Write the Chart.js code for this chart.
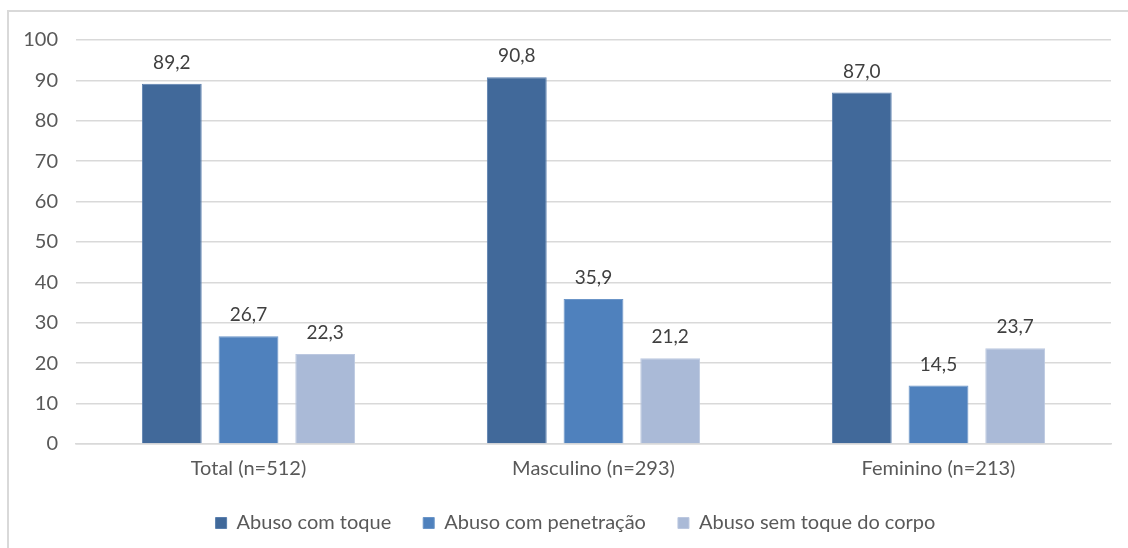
<!DOCTYPE html>
<html>
<head>
<meta charset="utf-8">
<script src="https://cdn.jsdelivr.net/npm/chart.js@4"></script>
<style>
html,body{margin:0;padding:0;background:#fff;}
#wrap{position:relative;width:1128px;height:548px;overflow:hidden;}
#frame{position:absolute;left:7px;top:10px;width:1140px;height:560px;border:2px solid #d9d9d9;box-sizing:border-box;}
canvas{position:absolute;left:0;top:0;}
</style>
</head>
<body>
<div id="wrap">
<div id="frame"></div>
<canvas id="c" width="1128" height="548"></canvas>
</div>
<script>
const categories = ["Total (n=512)", "Masculino (n=293)", "Feminino (n=213)"];
const seriesNames = ["Abuso com toque", "Abuso com penetração", "Abuso sem toque do corpo"];
const abusoComToque = [89.2, 90.8, 87.0];
const abusoComPenetracao = [26.7, 35.9, 14.5];
const abusoSemToque = [22.3, 21.2, 23.7];
const yTicks = [0, 10, 20, 30, 40, 50, 60, 70, 80, 90, 100];

const colors = ["#41699a", "#4f81bd", "#aabad7"];
const FONT = "Lato, 'Liberation Sans', sans-serif";

const labelPlugin = {
  id: 'valueLabels',
  afterDatasetsDraw(chart) {
    const ctx = chart.ctx;
    ctx.save();
    ctx.font = "19px " + FONT;
    ctx.fillStyle = "#404040";
    ctx.textAlign = "center";
    ctx.textBaseline = "middle";
    chart.data.datasets.forEach((ds, i) => {
      const meta = chart.getDatasetMeta(i);
      meta.data.forEach((bar, j) => {
        const v = ds.data[j];
        ctx.fillText(v.toFixed(1).replace('.', ','), bar.x, bar.y - 21);
      });
    });
    ctx.restore();
  }
};

const legendShift = {
  id: 'legendShift',
  afterLayout(chart) {
    if (chart.legend) { chart.legend.left += 40; chart.legend.right += 0; }
  }
};

new Chart(document.getElementById('c'), {
  type: 'bar',
  data: {
    labels: categories,
    datasets: [
      {label: seriesNames[0], data: abusoComToque, backgroundColor: colors[0], borderColor: "#5a7fae", borderWidth: 1},
      {label: seriesNames[1], data: abusoComPenetracao, backgroundColor: colors[1], borderColor: "#6b95c8", borderWidth: 1},
      {label: seriesNames[2], data: abusoSemToque, backgroundColor: colors[2], borderColor: "#bcc8e0", borderWidth: 1}
    ]
  },
  options: {
    responsive: false,
    animation: false,
    devicePixelRatio: 1,
    categoryPercentage: 0.667,
    barPercentage: 0.78,
    layout: {padding: {left: 0, right: 17, top: 40, bottom: 5}},
    plugins: {
      tooltip: {enabled: false},
      legend: {
        position: 'bottom',
        labels: {
          font: {family: FONT, size: 20},
          color: "#595959",
          boxWidth: 11,
          boxHeight: 11,
          padding: 32
        }
      }
    },
    scales: {
      x: {
        afterFit(scale) { scale.height = 37; },
        grid: {display: false, drawTicks: false},
        border: {color: "#d9d9d9", width: 1.5},
        ticks: {font: {family: FONT, size: 20}, color: "#595959", padding: 13}
      },
      y: {
        min: 0, max: 100,
        afterBuildTicks(scale) { scale.ticks = yTicks.map(v => ({value: v})); },
        afterFit(scale) { scale.width = 76; },
        grid: {color: "#d9d9d9", lineWidth: 1.5, drawTicks: false},
        border: {display: false},
        ticks: {font: {family: FONT, size: 20}, color: "#595959", padding: 18}
      }
    }
  },
  plugins: [labelPlugin, legendShift]
});
</script>
</body>
</html>
